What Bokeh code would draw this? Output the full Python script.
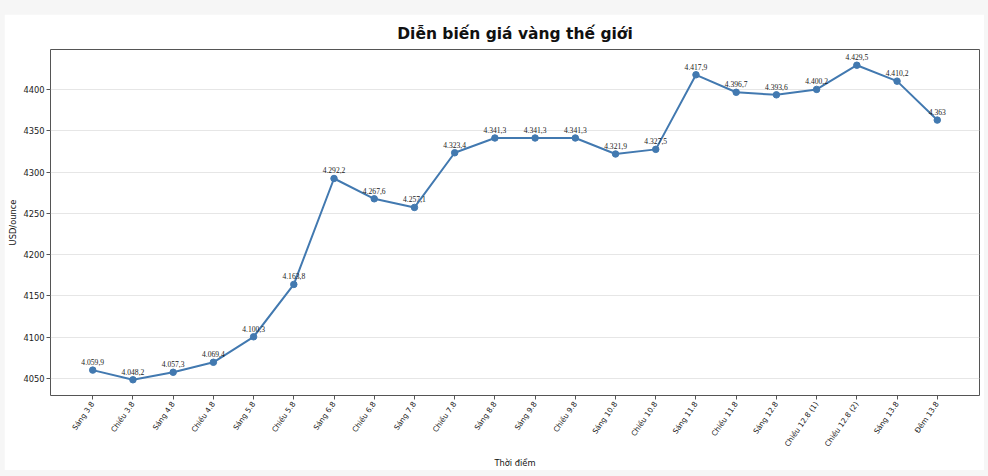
from bokeh.plotting import figure
from bokeh.models import Range1d, FixedTicker, ColumnDataSource, LabelSet
from bokeh.embed import file_html
from bokeh.resources import INLINE
import math

categories = ["Sáng 3.8", "Chiều 3.8", "Sáng 4.8", "Chiều 4.8", "Sáng 5.8", "Chiều 5.8",
              "Sáng 6.8", "Chiều 6.8", "Sáng 7.8", "Chiều 7.8", "Sáng 8.8", "Sáng 9.8",
              "Chiều 9.8", "Sáng 10.8", "Chiều 10.8", "Sáng 11.8", "Chiều 11.8", "Sáng 12.8",
              "Chiều 12.8 (1)", "Chiều 12.8 (2)", "Sáng 13.8", "Đêm 13.8"]
prices = [4059.9, 4048.2, 4057.3, 4069.4, 4100.3, 4163.8,
          4292.2, 4267.6, 4257.1, 4323.4, 4341.3, 4341.3,
          4341.3, 4321.9, 4327.5, 4417.9, 4396.7, 4393.6,
          4400.2, 4429.5, 4410.2, 4363.0]
y_ticks = [4050, 4100, 4150, 4200, 4250, 4300, 4350, 4400]


def fmt(v):
    s = f"{v:,.1f}"
    if s.endswith(".0"):
        s = s[:-2]
    return s.replace(",", "X").replace(".", ",").replace("X", ".")


xs = list(range(len(categories)))
labels = [fmt(v) for v in prices]
src = ColumnDataSource(dict(x=xs, y=prices, lab=labels))

n = len(categories)
pad_x = 0.05 * (n - 1)
ymin, ymax = min(prices), max(prices)
pad_y = 0.05 * (ymax - ymin)

FONT = "DejaVu Sans"
p = figure(width=980, height=456, output_backend="svg", toolbar_location=None,
           x_range=Range1d(-pad_x, n - 1 + pad_x),
           y_range=Range1d(ymin - pad_y, ymax + pad_y),
           min_border_left=46, min_border_right=5, min_border_top=35, min_border_bottom=72)

p.title.text = "Diễn biến giá vàng thế giới"
p.title.align = "center"
p.title.text_font = FONT
p.title.text_font_size = "15.5px"
p.title.text_font_style = "bold"
p.title.text_color = "#111111"
p.title.standoff = 14

p.line("x", "y", source=src, line_color="#4279b0", line_width=2)
p.scatter("x", "y", source=src, size=6.5, fill_color="#4279b0", line_color="#4279b0")

lbl = LabelSet(x="x", y="y", text="lab", source=src, y_offset=5, text_align="center",
               text_baseline="bottom", text_font=FONT, text_font_size="7.6px",
               text_color="#1a1a1a")
p.add_layout(lbl)

p.outline_line_color = "#555555"
p.outline_line_width = 1
p.background_fill_color = "white"
p.border_fill_color = "white"

p.xgrid.grid_line_color = None
p.ygrid.grid_line_color = "#e6e6e6"
p.ygrid.grid_line_width = 1

p.xaxis.ticker = FixedTicker(ticks=xs)
p.xaxis.major_label_overrides = {i: c for i, c in enumerate(categories)}
p.xaxis.major_label_orientation = math.radians(55)
p.yaxis.ticker = FixedTicker(ticks=y_ticks)

for ax in (p.xaxis, p.yaxis):
    ax.axis_line_color = None
    ax.major_tick_line_color = "#555555"
    ax.major_tick_out = 4
    ax.major_tick_in = 0
    ax.minor_tick_line_color = None
    ax.major_label_text_font = FONT
    ax.major_label_text_color = "#222222"
    ax.axis_label_text_font = FONT
    ax.axis_label_text_font_size = "8.3px"
    ax.axis_label_text_font_style = "normal"
    ax.axis_label_text_color = "#111111"

p.xaxis.major_label_standoff = 3
p.xaxis.axis_label_standoff = 4
p.yaxis.major_label_standoff = 2
p.yaxis.axis_label_standoff = 2
p.xaxis.major_label_text_font_size = "7.4px"
p.yaxis.major_label_text_font_size = "8.3px"
p.xaxis.axis_label = "Thời điểm"
p.yaxis.axis_label = "USD/ounce"

html = file_html(p, INLINE)
css = "<style>html, body { background: #f6f6f6 !important; } body { padding: 14px 4px 6px 4px !important; box-sizing: border-box !important; }</style>"
html = html.replace("</head>", css + "</head>", 1)
open("out.html", "w").write(html)
